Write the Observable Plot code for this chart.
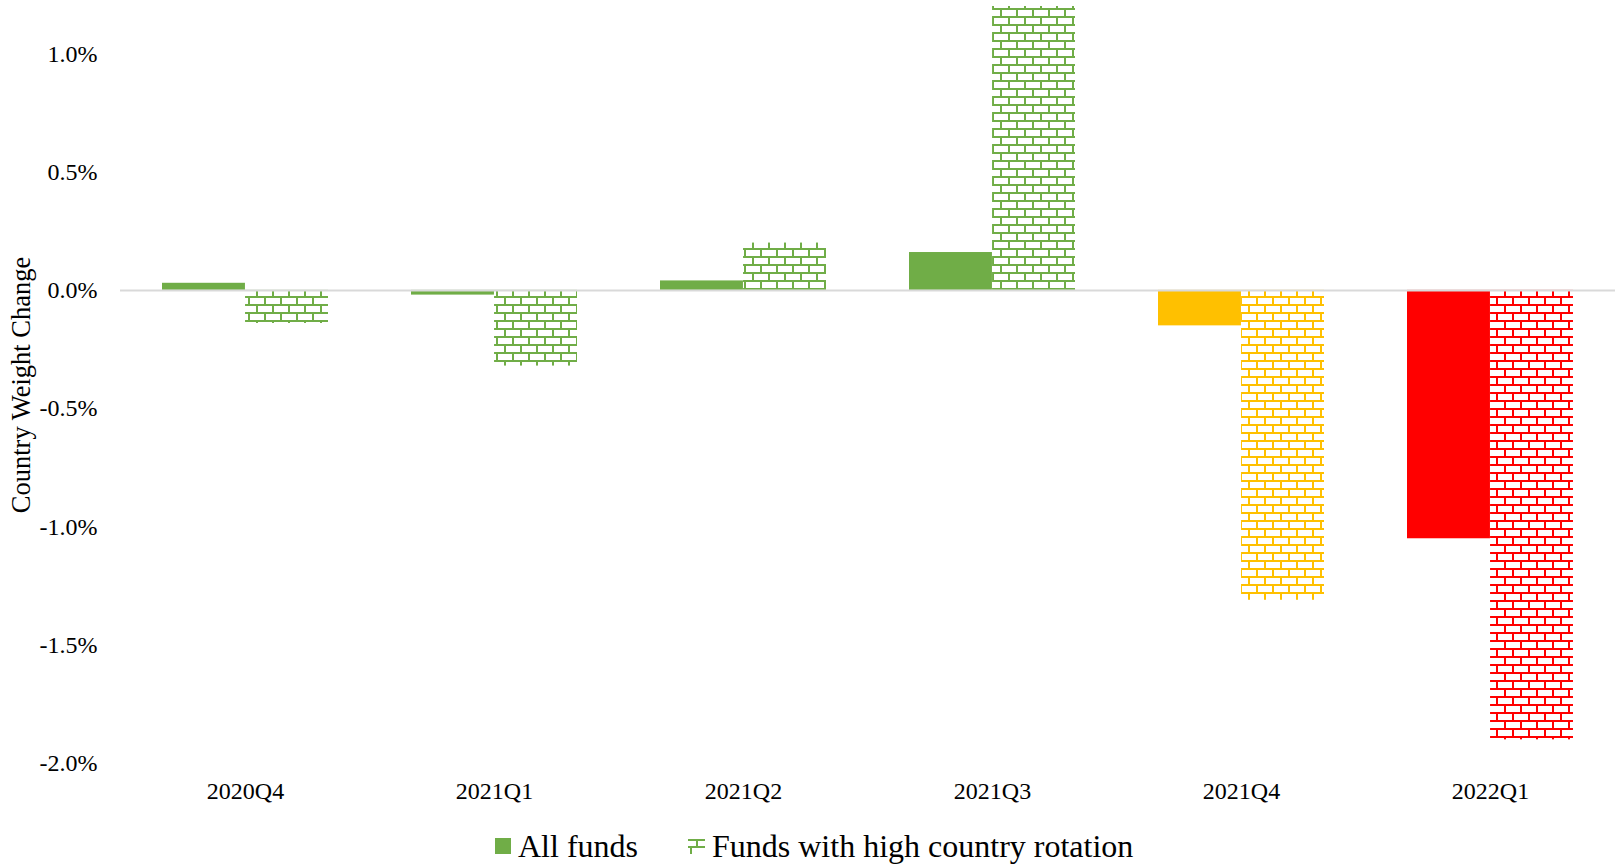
<!DOCTYPE html>
<html>
<head>
<meta charset="utf-8">
<script src="https://cdn.jsdelivr.net/npm/d3@7"></script>
<script src="https://cdn.jsdelivr.net/npm/@observablehq/plot@0.6"></script>
<style>
  html, body { margin: 0; padding: 0; background: #fff; }
  #wrap { position: relative; width: 1615px; height: 866px; font-family: "Liberation Serif", "Times New Roman", serif; }
  #legend { position: absolute; left: 495px; top: 828px; display: flex; align-items: center; font-size: 32px; line-height: 36px; color: #000; white-space: nowrap; }
  #legend .item { display: flex; align-items: center; }
  #legend .sw { display: inline-block; margin-right: 7px; }
  #legend .gap { width: 50px; }
</style>
</head>
<body>
<div id="wrap">
  <div id="chart"></div>
  <div id="legend"></div>
</div>
<script>
// Quarterly change in country weight (percentage points)
const quarters = ["2020Q4", "2021Q1", "2021Q2", "2021Q3", "2021Q4", "2022Q1"];
const allFunds = [0.03, -0.02, 0.04, 0.16, -0.15, -1.05];
const highRotation = [-0.14, -0.32, 0.20, 1.20, -1.31, -1.90];
const barColors = ["#70AD47", "#70AD47", "#70AD47", "#70AD47", "#FFC000", "#FF0000"];
const yTicks = [-2.0, -1.5, -1.0, -0.5, 0.0, 0.5, 1.0];
const seriesNames = ["All funds", "Funds with high country rotation"];
const yTitle = "Country Weight Change";

const fontFamily = '"Liberation Serif", "Times New Roman", serif';
const width = 1615, marginLeft = 120, marginRight = 0;
const padInner = 1 / 3, padOuter = 1 / 6;

// Each quarter's band holds two adjacent bars, so each takes half the band.
const step = (width - marginLeft - marginRight) / (quarters.length - padInner + 2 * padOuter);
const half = step * (1 - padInner) / 2;

const patternId = c => "brick-" + c.replace("#", "");
const rows = quarters.map((q, i) => ({
  quarter: q,
  all: allFunds[i],
  high: highRotation[i],
  color: barColors[i],
  pattern: `url(#${patternId(barColors[i])})`
}));

const chart = Plot.plot({
  width,
  height: 813,
  marginLeft,
  marginRight,
  marginTop: 6,
  marginBottom: 50,
  style: { fontFamily, fontSize: "24px", color: "#000", background: "#fff" },
  x: { type: "band", domain: quarters, paddingInner: padInner, paddingOuter: padOuter, label: null, tickSize: 0, tickPadding: 18 },
  y: { domain: [-2, 1.2], ticks: yTicks, tickFormat: d => d.toFixed(1) + "%", tickSize: 0, tickPadding: 23, label: null },
  color: { type: "identity" },
  marks: [
    Plot.barY(rows, { x: "quarter", y: "all", fill: "color", insetRight: half }),
    Plot.barY(rows, { x: "quarter", y: "high", fill: "pattern", insetLeft: half }),
    Plot.ruleY([0], { stroke: "#D9D9D9", strokeWidth: 2 }),
    Plot.text([yTitle], { text: d => d, frameAnchor: "left", textAnchor: "middle", rotate: -90, dx: -99, fontSize: 26.5, fill: "#000" })
  ]
});

// Horizontal-brick fill used by the high-rotation bars
function addBrickPattern(defs, color) {
  const p = defs.append("pattern")
    .attr("id", patternId(color))
    .attr("patternUnits", "userSpaceOnUse")
    .attr("width", 16).attr("height", 16);
  p.append("rect").attr("x", 0).attr("y", 0).attr("width", 16).attr("height", 2).attr("fill", color);
  p.append("rect").attr("x", 0).attr("y", 8).attr("width", 16).attr("height", 2).attr("fill", color);
  p.append("rect").attr("x", 0).attr("y", 0).attr("width", 2).attr("height", 8).attr("fill", color);
  p.append("rect").attr("x", 8).attr("y", 8).attr("width", 2).attr("height", 8).attr("fill", color);
}
const defs = d3.select(chart).insert("defs", ":first-child");
Array.from(new Set(barColors)).forEach(c => addBrickPattern(defs, c));

document.getElementById("chart").append(chart);

// Legend below the chart
const legend = d3.select("#legend");
const item1 = legend.append("div").attr("class", "item");
item1.append("svg").attr("class", "sw").attr("width", 16).attr("height", 16)
  .append("rect").attr("width", 16).attr("height", 16).attr("fill", barColors[0]);
item1.append("span").text(seriesNames[0]);
legend.append("div").attr("class", "gap");
const item2 = legend.append("div").attr("class", "item");
// small brick glyph for the patterned series
const sw2 = item2.append("svg").attr("class", "sw").attr("width", 17).attr("height", 16);
const glyph = [
  { x: 0, y: 1, w: 17, h: 2 },
  { x: 8, y: 1, w: 2, h: 8 },
  { x: 0, y: 8, w: 17, h: 2 },
  { x: 2, y: 8, w: 2, h: 8 }
];
sw2.selectAll("rect").data(glyph).join("rect")
  .attr("x", d => d.x).attr("y", d => d.y).attr("width", d => d.w).attr("height", d => d.h)
  .attr("fill", barColors[0]);
item2.append("span").text(seriesNames[1]);
</script>
</body>
</html>
